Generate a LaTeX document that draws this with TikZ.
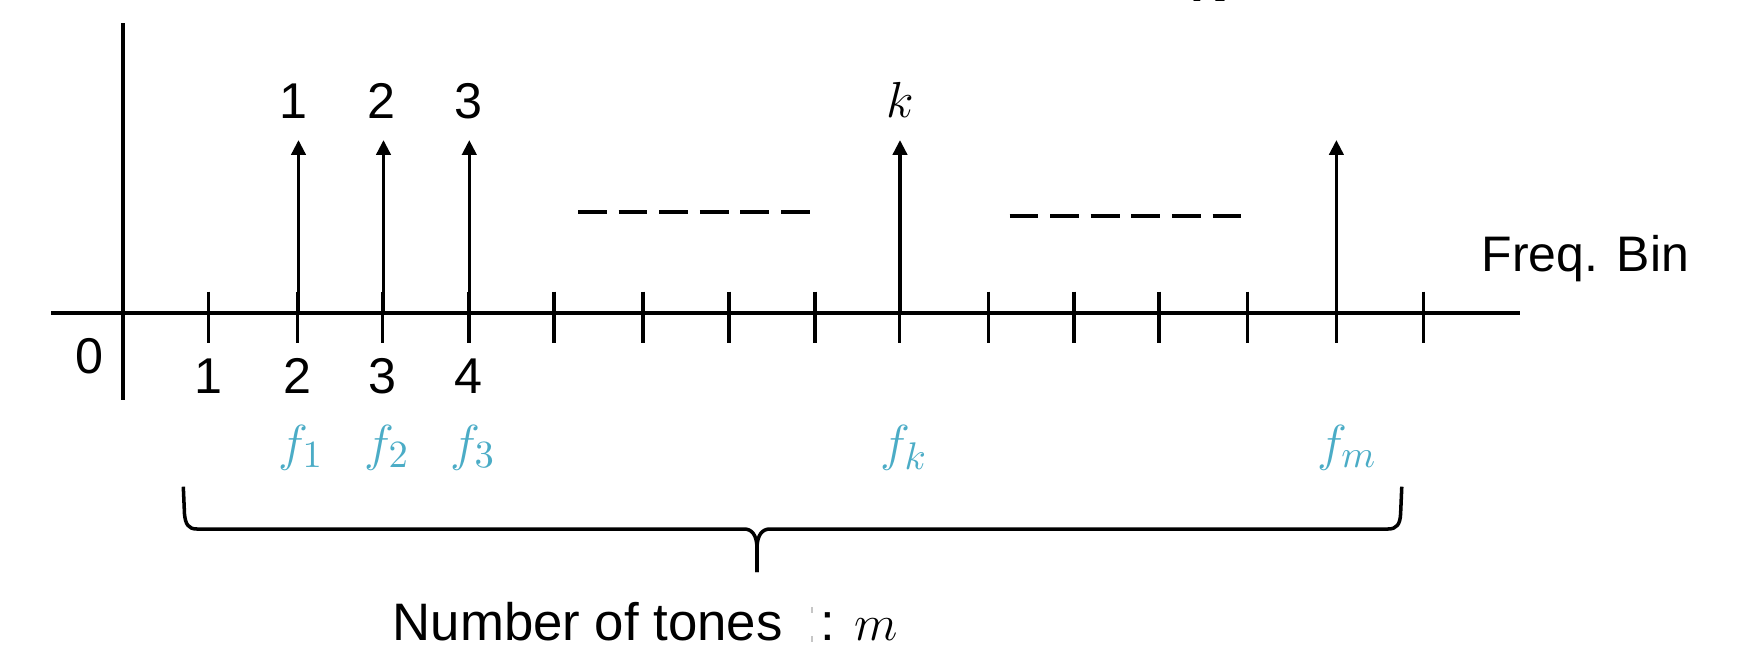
\documentclass[tikz,border=0pt]{standalone}
\usepackage{fontspec}
\setmainfont{Liberation Sans}
\usetikzlibrary{arrows.meta}
\definecolor{fcyan}{RGB}{75,172,198}
\begin{document}
\begin{tikzpicture}[x=0.01cm,y=-0.01cm,
  axisline/.style={line width=1pt},
  tickmark/.style={line width=1pt},
  tone/.style={line width=1pt,-{Triangle[width=4pt,length=4.2pt]}},
  gapline/.style={line width=1.1pt, dash pattern=on 8.2pt off 3.35pt},
  bracepath/.style={line width=1pt, line join=round},
  lbl/.style={font=\fontsize{14.3}{16}\selectfont, inner sep=0pt, anchor=base},
  flbl/.style={text=fcyan, font=\fontsize{15}{17}\selectfont, inner sep=0pt, anchor=base},
  mlbl/.style={font=\fontsize{15}{17}\selectfont, inner sep=0pt, anchor=base},
]
\useasboundingbox (0,0) rectangle (1741,654);

% axes
\coordinate (ytop) at (123,23);
\coordinate (ybot) at (123,400);
\coordinate (xl) at (51,313);
\coordinate (xr) at (1520,313);
\draw[axisline] (ytop) -- (ybot);
\draw[axisline] (xl) -- (xr);

% ticks
\foreach \n/\x in {1/208.6,2/297.7,3/382.7,4/468.8,5/554.2,6/642.9,7/729,8/815,9/899.7,10/988.4,11/1073.8,12/1159,13/1247.6,14/1336.4,15/1423.6}{
  \coordinate (tu\n) at (\x,291.7);
  \coordinate (td\n) at (\x,343.3);
  \draw[tickmark] (tu\n) -- (td\n);
}

% tones
\foreach \n/\x in {2/298.5,3/383.5,4/469.3,9/900,14/1336.4}{
  \coordinate (a\n) at (\x,140);
  \coordinate (b\n) at (\x,313);
  \draw[tone] (b\n) -- (a\n);
}

% labels above tones
\node[lbl] (p1) at (293,118) {1};
\node[lbl] (p2) at (381.7,118) {2};
\node[lbl] (p3) at (468,118) {3};
\node[mlbl] (pk) at (900,117) {$k$};

% labels below axis
\node[lbl] (z0) at (89.5,373) {0};
\node[lbl] (n1) at (208.6,393) {1};
\node[lbl] (n2) at (297.7,393) {2};
\node[lbl] (n3) at (382.7,393) {3};
\node[lbl] (n4) at (468.8,393) {4};

% frequency labels
\node[flbl] (f1) at (301,460) {$f_1$};
\node[flbl] (f2) at (387,460) {$f_2$};
\node[flbl] (f3) at (473,460) {$f_3$};
\node[flbl] (fk) at (904,460) {$f_k$};
\node[flbl] (fm) at (1347,460) {$f_m$};

% dashed gaps
\coordinate (d1a) at (578,212);
\coordinate (d1b) at (810,212);
\coordinate (d2a) at (1009.5,216);
\coordinate (d2b) at (1242,216);
\draw[gapline] (d1a) -- (d1b);
\draw[gapline] (d2a) -- (d2b);

% axis label
\node[font=\fontsize{14.2}{17}\selectfont, inner sep=0pt, anchor=base west] (fb) at (1481,271) {Freq. Bin};

% brace
\coordinate (bl) at (183.3,486.7);
\coordinate (br) at (1401.8,486.7);
\coordinate (btip) at (757,572);
\draw[bracepath] (bl) -- (184.5,514) .. controls (185.5,524) and (188,529) .. (197,529)
  -- (744,529) .. controls (752,529) and (756.5,535) .. (757,547) -- (btip);
\draw[bracepath] (btip) -- (757,547) .. controls (757.5,535) and (762,529) .. (770,529)
  -- (1388,529) .. controls (1397,529) and (1400,524) .. (1400.6,514) -- (br);

% bottom text
\node[font=\fontsize{15}{17}\selectfont, inner sep=0pt, anchor=base west] (nt) at (392,640) {Number of tones};
\coordinate (c1) at (811.7,607);
\coordinate (c2) at (811.7,613);
\coordinate (c3) at (811.7,636);
\coordinate (c4) at (811.7,642);
\draw[gray!45, line width=0.5pt] (c1) -- (c2);
\draw[gray!45, line width=0.5pt] (c3) -- (c4);
\node[font=\fontsize{15}{17}\selectfont, inner sep=0pt, anchor=base] (col) at (827.7,640) {:};
\node[mlbl] (mm) at (876,640) {$m$};

% cropped glyph at the top edge
\begin{scope}
\clip (0,0) rectangle (1741,654);
\node[font=\fontsize{15}{17}\selectfont, inner sep=0pt, anchor=base west] (topN) at (1190,1.5) {$\mathbf{N}$};
\end{scope}
\end{tikzpicture}
\end{document}
